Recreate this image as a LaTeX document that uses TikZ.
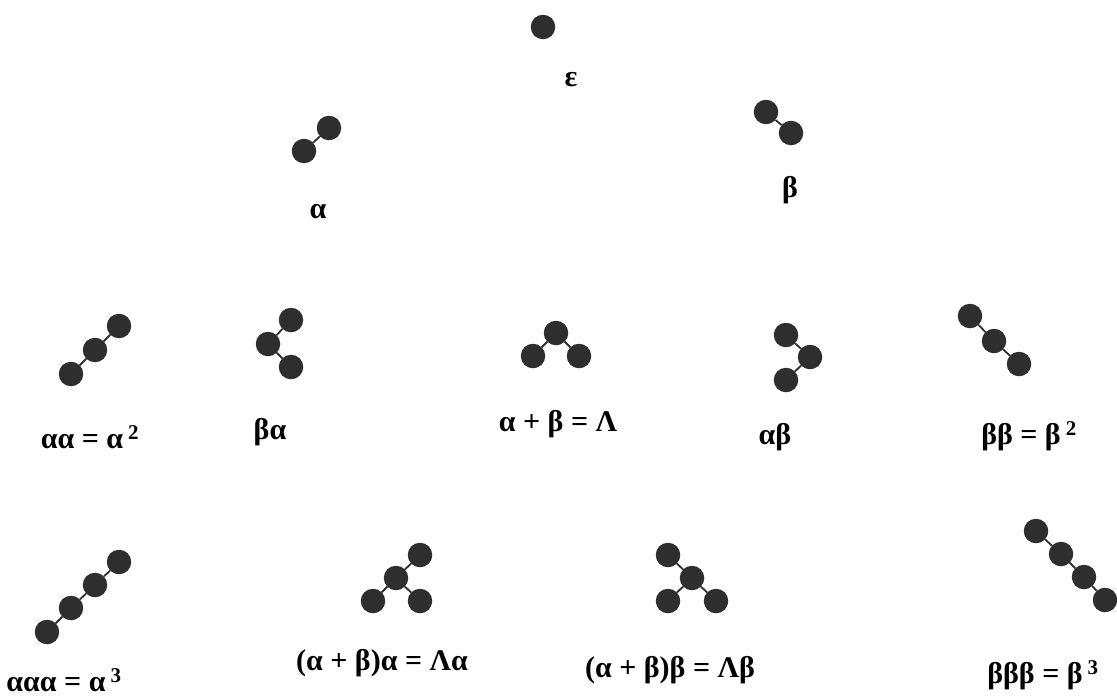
\documentclass[tikz,border=0pt]{standalone}
\usepackage{fontspec}
\setmainfont{Liberation Serif}
\usepackage{tikz}

\begin{document}
\begin{tikzpicture}[
    x=1pt, y=-1pt,
    % bolas oscuras de las cadenas
    bola/.style={circle, fill=black!82, inner sep=0pt, minimum size=24.5pt},
    enlace/.style={draw=black!82, line width=1.8pt},
    rotulo/.style={font=\fontsize{30}{34}\selectfont\bfseries, inner sep=0pt}
]
    \useasboundingbox (0,0) rectangle (1117,697);

    % --- FILA 0: epsilon ---
    \node[bola] (e1) at (543,27) {};
    \node[rotulo] (te) at (571,80) {ε};

    % --- FILA 1: alfa y beta ---
    \node[bola] (a1) at (304,151) {};
    \node[bola] (a2) at (329,128) {};
    \node[rotulo] (ta) at (318,212) {α};

    \node[bola] (b1) at (766,112) {};
    \node[bola] (b2) at (791,133) {};
    \node[rotulo] (tb) at (790,190) {β};

    \draw[enlace] (a1) -- (a2);
    \draw[enlace] (b1) -- (b2);

    % --- FILA 2: dos enlaces ---
    \node[bola] (aa1) at (71,374) {};
    \node[bola] (aa2) at (95,350) {};
    \node[bola] (aa3) at (119,326) {};
    \node[rotulo] (taa) at (90,437) {αα = α\,\textsuperscript{2}};

    \node[bola] (ba1) at (291,320) {};
    \node[bola] (ba2) at (268,344) {};
    \node[bola] (ba3) at (291,367) {};
    \node[rotulo] (tba) at (270,432) {βα};

    \node[bola] (L1) at (556,333) {};
    \node[bola] (L2) at (533,356) {};
    \node[bola] (L3) at (579,356) {};
    \node[rotulo] (tL) at (558,424) {α + β = Λ};

    \node[bola] (ab1) at (786,335) {};
    \node[bola] (ab2) at (810,357) {};
    \node[bola] (ab3) at (786,380) {};
    \node[rotulo] (tab) at (775,437) {αβ};

    \node[bola] (bb1) at (970,316) {};
    \node[bola] (bb2) at (994,341) {};
    \node[bola] (bb3) at (1019,364) {};
    \node[rotulo] (tbb) at (1029,436) {ββ = β\,\textsuperscript{2}};

    \draw[enlace] (aa1) -- (aa2) -- (aa3);
    \draw[enlace] (ba1) -- (ba2) -- (ba3);
    \draw[enlace] (L2) -- (L1) -- (L3);
    \draw[enlace] (ab1) -- (ab2) -- (ab3);
    \draw[enlace] (bb1) -- (bb2) -- (bb3);

    % --- FILA 3: tres enlaces ---
    \node[bola] (aaa1) at (47,632) {};
    \node[bola] (aaa2) at (71,608) {};
    \node[bola] (aaa3) at (95,585) {};
    \node[bola] (aaa4) at (119,562) {};
    \node[rotulo] (taaa) at (64,680) {ααα = α\,\textsuperscript{3}};

    \node[bola] (La0) at (396,578) {};
    \node[bola] (La1) at (420,555) {};
    \node[bola] (La2) at (373,601) {};
    \node[bola] (La3) at (420,601) {};
    \node[rotulo] (tLa) at (382,663) {(α + β)α = Λα};

    \node[bola] (Lb0) at (692,578) {};
    \node[bola] (Lb1) at (668,555) {};
    \node[bola] (Lb2) at (668,601) {};
    \node[bola] (Lb3) at (716,601) {};
    \node[rotulo] (tLb) at (670,670) {(α + β)β = Λβ};

    \node[bola] (bbb1) at (1036,531) {};
    \node[bola] (bbb2) at (1061,554) {};
    \node[bola] (bbb3) at (1084,577) {};
    \node[bola] (bbb4) at (1105,600) {};
    \node[rotulo] (tbbb) at (1043,675) {βββ = β\,\textsuperscript{3}};

    \draw[enlace] (aaa1) -- (aaa2) -- (aaa3) -- (aaa4);
    \draw[enlace] (La0) -- (La1);
    \draw[enlace] (La0) -- (La2);
    \draw[enlace] (La0) -- (La3);
    \draw[enlace] (Lb0) -- (Lb1);
    \draw[enlace] (Lb0) -- (Lb2);
    \draw[enlace] (Lb0) -- (Lb3);
    \draw[enlace] (bbb1) -- (bbb2) -- (bbb3) -- (bbb4);

\end{tikzpicture}
\end{document}
